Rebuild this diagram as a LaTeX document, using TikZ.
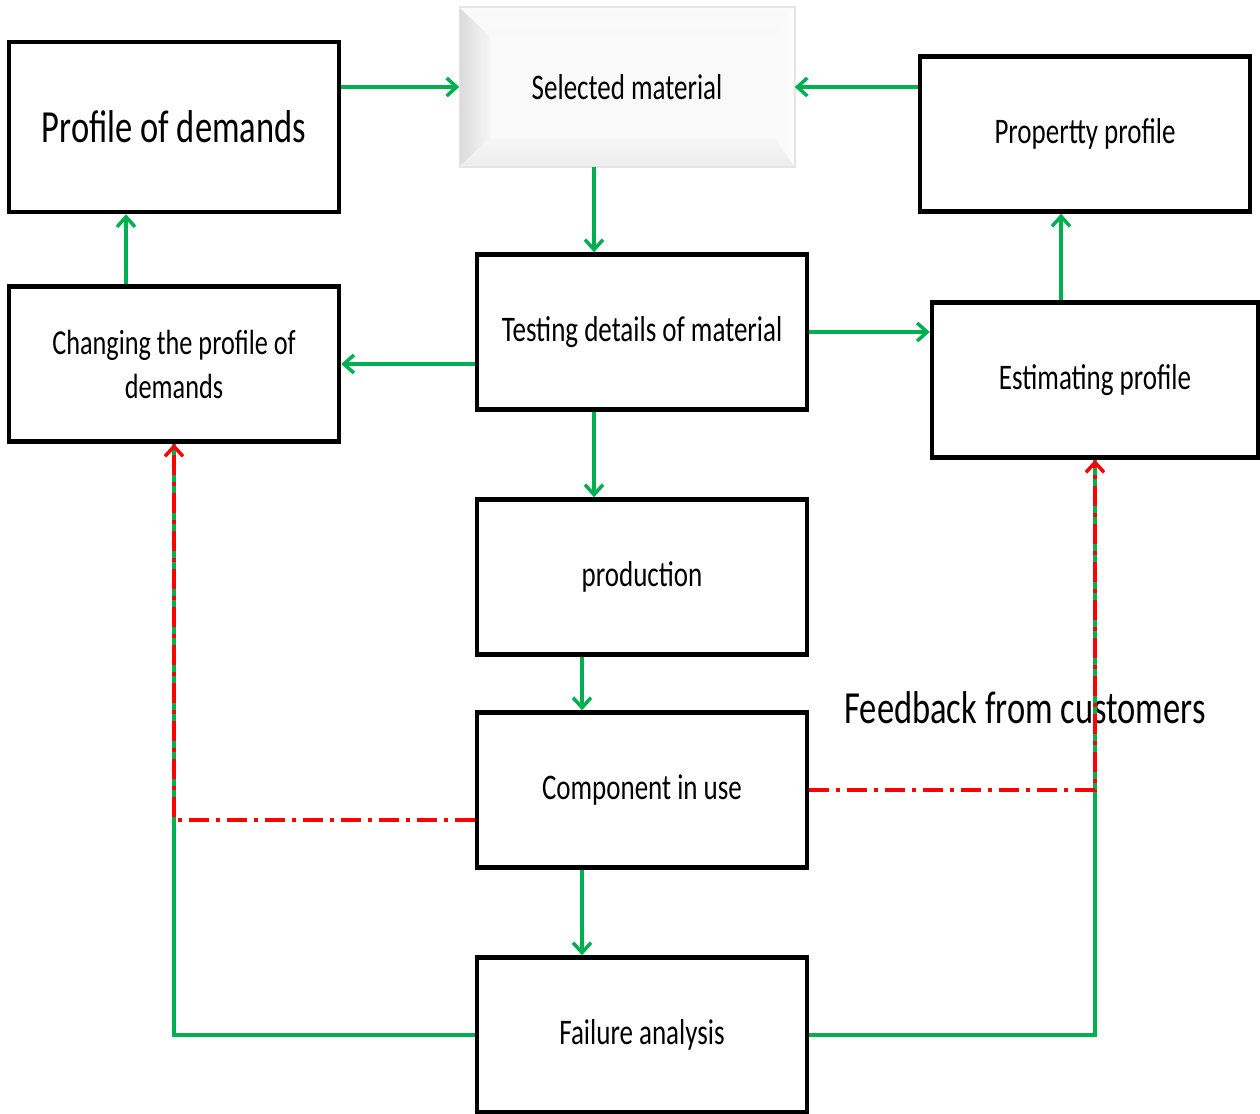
\documentclass[tikz,border=0pt]{standalone}
\usepackage{fontspec}
\setmainfont{Carlito}[FakeStretch=0.75]
\usetikzlibrary{arrows.meta,calc,backgrounds}
\definecolor{flowgreen}{RGB}{0,176,80}
\definecolor{flowred}{RGB}{255,0,0}
\begin{document}
\begin{tikzpicture}[x=1pt,y=-1pt,
  box/.style={draw=black,line width=4.5pt,minimum width=330pt,minimum height=155pt,
    inner sep=0pt,align=center,font=\fontsize{36}{44}\selectfont},
  flow/.style={draw=flowgreen,line width=3.8pt,
    -{Straight Barb[length=10pt,width=18pt,line width=3.5pt]}},
  plain/.style={draw=flowgreen,line width=3.8pt},
  feedback/.style={draw=flowred,line width=4pt,
    dash pattern=on 20pt off 7pt on 4pt off 7pt,
    -{Straight Barb[length=10pt,width=18pt,line width=3.5pt]}}]
\useasboundingbox (0,0) rectangle (1260,1113);

% boxes
\node[box,minimum height=170pt,font=\fontsize{46}{54}\selectfont] (pod) at (174,127) {Profile of demands};
\node[box,draw=none,minimum width=331pt] (sel) at (627,87) {Selected material};
\node[box] (prop) at (1085,134) {\raisebox{-4pt}{Propertty profile}};
\node[box,font=\fontsize{35}{44}\selectfont] (chg) at (174,364) {Changing the profile of\\demands};
\node[box] (test) at (642,332) {Testing details of material};
\node[box,minimum width=326pt] (est) at (1095,380) {Estimating profile};
\node[box] (prod) at (642,577) {production};
\node[box] (comp) at (642,790) {Component in use};
\node[box] (fail) at (642,1035) {Failure analysis};
\node[font=\fontsize{46}{54}\selectfont] (fb) at (1025,708) {Feedback from customers};

% bevelled face of the selected material block
\begin{pgfonlayer}{background}
  \coordinate (o1) at (sel.north west);
  \coordinate (o2) at (sel.north east);
  \coordinate (o3) at (sel.south east);
  \coordinate (o4) at (sel.south west);
  \coordinate (i1) at ($(o1)+(30,28)$);
  \coordinate (i2) at ($(o2)+(-20,28)$);
  \coordinate (i3) at ($(o3)+(-20,-28)$);
  \coordinate (i4) at ($(o4)+(30,-28)$);
  \fill[gray!5] (i1) rectangle (i3);
  \shade[left color=gray!28,right color=gray!8] (o1) -- (i1) -- (i4) -- (o4) -- cycle;
  \shade[top color=gray!3,bottom color=gray!6] (o1) -- (o2) -- (i2) -- (i1) -- cycle;
  \shade[left color=gray!5,right color=gray!2] (o2) -- (o3) -- (i3) -- (i2) -- cycle;
  \shade[top color=gray!7,bottom color=gray!14] (o4) -- (i4) -- (i3) -- (o3) -- cycle;
  \draw[gray!20,line width=1.5pt] (o1) rectangle (o3);
\end{pgfonlayer}

% column positions of the vertical links
\coordinate (xa) at (594,0);
\coordinate (xb) at (582,0);
\coordinate (xc) at (126,0);
\coordinate (xd) at (1061,0);
\coordinate (ya) at (0,820);

% main flow
\draw[flow] (pod.east |- sel.west) -- (sel.west);
\draw[flow] (prop.west |- sel.east) -- (sel.east);
\draw[flow] (sel.south -| xa) -- (test.north -| xa);
\draw[flow] (test.west |- chg.east) -- (chg.east);
\draw[flow] (test.east) -- (test.east -| est.west);
\draw[flow] (chg.north -| xc) -- (pod.south -| xc);
\draw[flow] (est.north -| xd) -- (prop.south -| xd);
\draw[flow] (test.south -| xa) -- (prod.north -| xa);
\draw[flow] (prod.south -| xb) -- (comp.north -| xb);
\draw[flow] (comp.south -| xb) -- (fail.north -| xb);

% return paths from failure analysis
\draw[plain] (fail.west) -| (chg.south);
\draw[plain] (fail.east) -| (est.south);

% customer feedback
\draw[feedback] (comp.west |- ya) -| (chg.south);
\draw[feedback] (comp.east) -| (est.south);
\end{tikzpicture}
\end{document}
